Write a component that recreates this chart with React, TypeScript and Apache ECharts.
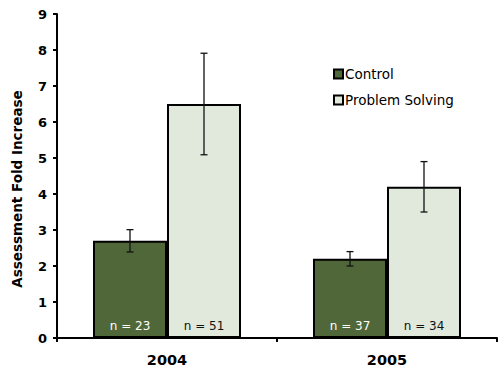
import React, { useEffect, useRef } from "react";
import * as echarts from "echarts";

const years = ["2004", "2005"];
const controlValues = [2.7, 2.2];
const controlErr = [0.31, 0.2];
const controlN = [23, 37];
const psValues = [6.5, 4.2];
const psErr = [1.41, 0.7];
const psN = [51, 34];
const yTicks = [0, 1, 2, 3, 4, 5, 6, 7, 8, 9];
const yTitle = "Assessment Fold Increase";

const FONT = "DejaVu Sans, Verdana, sans-serif";
const BAR_W = 74;

function errorSeries(name: string, values: number[], errs: number[], offset: number) {
  return {
    type: "custom",
    name: name + " err",
    z: 10,
    silent: true,
    data: values.map((v, i) => [i, v - errs[i], v + errs[i]]),
    renderItem: (params: any, api: any) => {
      const idx = api.value(0);
      const lo = api.coord([idx, api.value(1)]);
      const hi = api.coord([idx, api.value(2)]);
      const x = lo[0] + offset;
      const cap = 3.5;
      const style = { stroke: "#111", lineWidth: 1.3 };
      return {
        type: "group",
        children: [
          { type: "line", shape: { x1: x, y1: lo[1], x2: x, y2: hi[1] }, style },
          { type: "line", shape: { x1: x - cap, y1: lo[1], x2: x + cap, y2: lo[1] }, style },
          { type: "line", shape: { x1: x - cap, y1: hi[1], x2: x + cap, y2: hi[1] }, style },
        ],
      };
    },
  };
}

export default function App() {
  const ref = useRef<HTMLDivElement>(null);
  useEffect(() => {
    const chart = echarts.init(ref.current!, null, { renderer: "svg" });
    chart.setOption({
      animation: false,
      backgroundColor: "#ffffff",
      textStyle: { fontFamily: FONT },
      grid: { left: 57, right: 3, top: 14, bottom: 36 },
      graphic: [
        {
          type: "text",
          x: 17,
          y: 189,
          rotation: Math.PI / 2,
          style: {
            text: yTitle,
            fontFamily: FONT,
            fontWeight: "bold",
            fontSize: 13.5,
            fill: "#000",
            align: "center",
            verticalAlign: "middle",
          },
        },
      ],
      legend: {
        orient: "vertical",
        left: 328,
        top: 62,
        itemWidth: 9,
        itemHeight: 9,
        itemGap: 12,
        icon: "rect",
        textStyle: { fontFamily: FONT, fontSize: 13.5, color: "#000", padding: [0, 0, 0, -3] },
        data: ["Control", "Problem Solving"],
      },
      xAxis: {
        type: "category",
        data: years,
        axisLine: { lineStyle: { color: "#000", width: 2 } },
        axisTick: { show: true, length: 4, lineStyle: { color: "#000", width: 2 } },
        axisLabel: { fontFamily: FONT, fontWeight: "bold", fontSize: 14.5, color: "#000", margin: 14 },
      },
      yAxis: {
        type: "value",
        min: 0,
        max: 9,
        interval: 1,
        axisLine: { show: true, lineStyle: { color: "#000", width: 2 } },
        axisTick: { show: true, length: 4, lineStyle: { color: "#000", width: 2 } },
        axisLabel: {
          fontFamily: FONT,
          fontWeight: "bold",
          fontSize: 13,
          color: "#000",
          margin: 10,
          formatter: (v: number) => (yTicks.includes(v) ? String(v) : ""),
        },
        splitLine: { show: false },
      },
      series: [
        {
          type: "bar",
          name: "Control",
          data: controlValues,
          barWidth: BAR_W,
          barGap: "0%",
          itemStyle: { color: "#4f6739", borderColor: "#000", borderWidth: 2 },
          label: {
            show: true,
            position: "insideBottom",
            distance: 6,
            fontFamily: FONT,
            fontSize: 12,
            color: "#ffffff",
            formatter: (p: any) => "n = " + controlN[p.dataIndex],
          },
        },
        {
          type: "bar",
          name: "Problem Solving",
          data: psValues,
          barWidth: BAR_W,
          barGap: "0%",
          itemStyle: { color: "#e1e9dc", borderColor: "#000", borderWidth: 2 },
          label: {
            show: true,
            position: "insideBottom",
            distance: 6,
            fontFamily: FONT,
            fontSize: 12,
            color: "#111",
            formatter: (p: any) => "n = " + psN[p.dataIndex],
          },
        },
        errorSeries("Control", controlValues, controlErr, -BAR_W / 2),
        errorSeries("Problem Solving", psValues, psErr, BAR_W / 2),
      ],
    });
    return () => chart.dispose();
  }, []);
  return <div ref={ref} style={{ width: 500, height: 374, position: "absolute", left: 0, top: 0 }} />;
}
